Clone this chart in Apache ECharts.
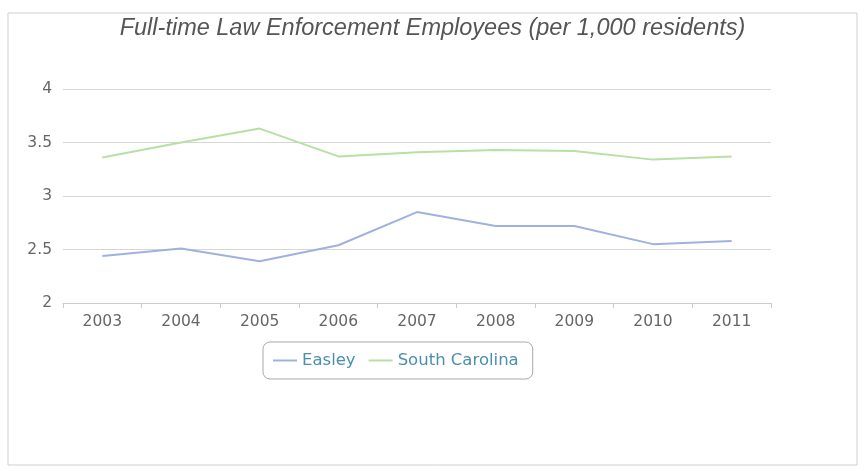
<!DOCTYPE html>
<html>
<head>
<meta charset="utf-8">
<script src="https://cdn.jsdelivr.net/npm/echarts@6/dist/echarts.min.js"></script>
<style>
  html, body { margin: 0; padding: 0; background: #fff; }
  #chart { width: 865px; height: 471px; }
</style>
</head>
<body>
<div id="chart"></div>
<script>
// 数据
const years = ['2003', '2004', '2005', '2006', '2007', '2008', '2009', '2010', '2011'];
const easley = [2.44, 2.51, 2.39, 2.54, 2.85, 2.72, 2.72, 2.55, 2.58];
const southCarolina = [3.36, 3.50, 3.63, 3.37, 3.41, 3.43, 3.42, 3.34, 3.37];
const yTicks = [2, 2.5, 3, 3.5, 4];

const chart = echarts.init(document.getElementById('chart'));

const option = {
    backgroundColor: '#fff',
    animation: false,
    title: {
        text: 'Full-time Law Enforcement Employees (per 1,000 residents)',
        left: 'center',
        top: 12,
        textStyle: {
            fontFamily: 'Liberation Sans',
            fontStyle: 'italic',
            fontWeight: 'normal',
            fontSize: 23.5,
            color: '#555'
        }
    },
    // 外框
    graphic: [{
        type: 'rect',
        shape: { x: 8, y: 13, width: 849, height: 452 },
        style: { fill: 'none', stroke: '#cfcfcf', lineWidth: 1 },
        silent: true
    }],
    // 图例框在参考图中偏左，不居中
    legend: {
        data: ['Easley', 'South Carolina'],
        left: 263,
        top: 342,
        padding: [10, 14, 10, 10],
        borderColor: '#a8a8a8',
        borderWidth: 1,
        borderRadius: 7,
        itemWidth: 24,
        itemHeight: 2,
        itemGap: 13,
        icon: 'rect',
        textStyle: {
            fontFamily: 'DejaVu Sans',
            fontSize: 16.5,
            color: '#4a8fae'
        }
    },
    grid: {
        left: 63,
        right: 94,
        top: 89,
        bottom: 168
    },
    xAxis: {
        type: 'category',
        data: years,
        boundaryGap: true,
        axisLine: { lineStyle: { color: '#cccccc' } },
        axisTick: { show: true, length: 5, lineStyle: { color: '#cccccc' } },
        axisLabel: {
            fontFamily: 'DejaVu Sans',
            fontSize: 15.5,
            color: '#666',
            margin: 11
        }
    },
    yAxis: {
        type: 'value',
        min: yTicks[0],
        max: yTicks[yTicks.length - 1],
        interval: 0.5,
        axisLine: { show: false },
        axisTick: { show: false },
        splitLine: { lineStyle: { color: '#d6d6d6' } },
        axisLabel: {
            fontFamily: 'DejaVu Sans',
            fontSize: 15.5,
            color: '#666',
            margin: 11
        }
    },
    series: [{
        name: 'Easley',
        type: 'line',
        data: easley,
        symbol: 'none',
        color: '#9fb2de',
        lineStyle: { width: 2, color: '#9fb2de' }
    }, {
        name: 'South Carolina',
        type: 'line',
        data: southCarolina,
        symbol: 'none',
        color: '#b6e1a2',
        lineStyle: { width: 2, color: '#b6e1a2' }
    }]
};

chart.setOption(option);
</script>
</body>
</html>
